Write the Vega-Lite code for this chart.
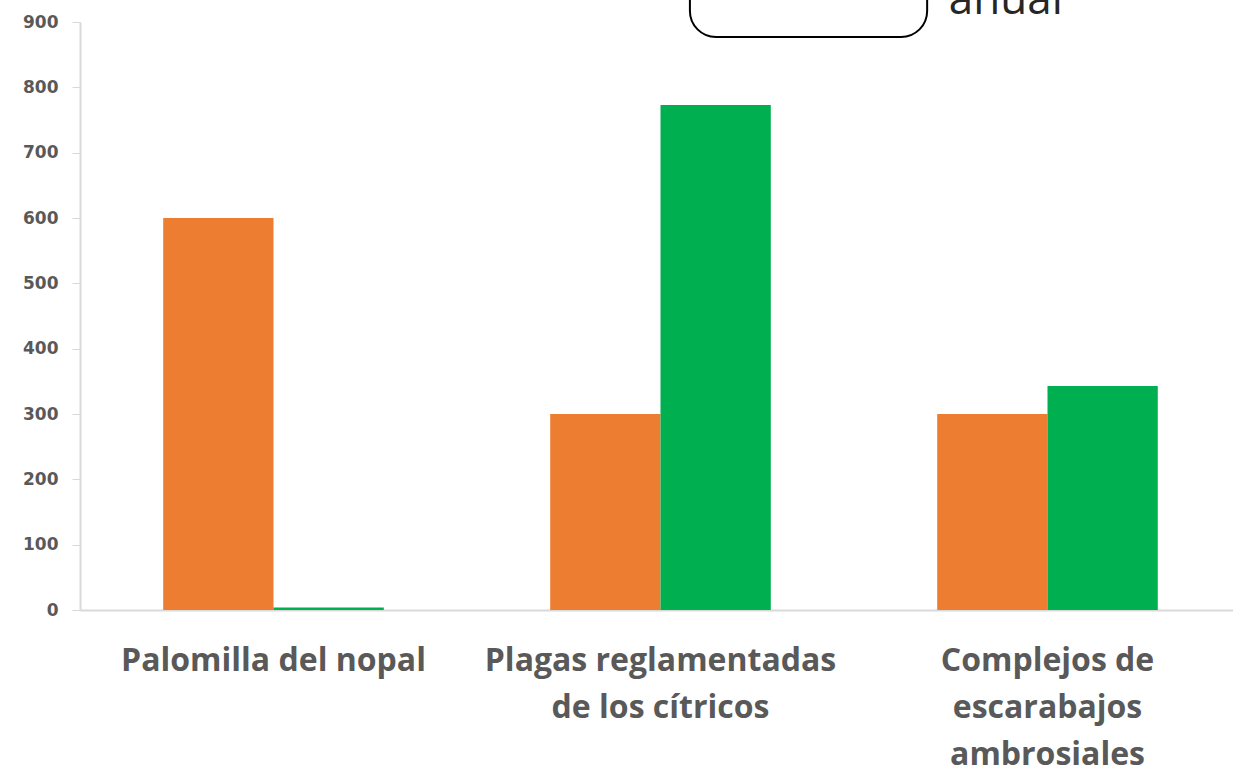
{
  "$schema": "https://vega.github.io/schema/vega-lite/v6.json",
  "width": 1161,
  "height": 588,
  "autosize": {"type": "none"},
  "padding": {"left": 80, "top": 22, "right": 0, "bottom": 170},
  "background": "white",
  "config": {"view": {"stroke": null}, "font": "Open Sans"},
  "datasets": {
    "bars": [
      {"plaga": "Palomilla del nopal", "serie": "A", "valor": 600},
      {"plaga": "Palomilla del nopal", "serie": "B", "valor": 4},
      {"plaga": "Plagas reglamentadas de los cítricos", "serie": "A", "valor": 300},
      {"plaga": "Plagas reglamentadas de los cítricos", "serie": "B", "valor": 773},
      {"plaga": "Complejos de escarabajos ambrosiales", "serie": "A", "valor": 300},
      {"plaga": "Complejos de escarabajos ambrosiales", "serie": "B", "valor": 343}
    ],
    "notas": [
      {"x0": 1.576, "x1": 2.189, "y0": 877, "y1": 980, "texto": "anual", "xt": 2.245, "yt": 912}
    ]
  },
  "layer": [
    {
      "data": {"name": "bars"},
      "mark": {"type": "bar"},
      "encoding": {
        "x": {
          "field": "plaga", "type": "nominal", "sort": null,
          "scale": {"paddingInner": 0.43, "paddingOuter": 0.215},
          "axis": {
            "title": null, "ticks": false, "labelAngle": 0,
            "domainColor": "#D9D9D9", "domainWidth": 2,
            "labelFont": "Open Sans", "labelFontWeight": "bold", "labelFontSize": 32,
            "labelColor": "#595959", "labelPadding": 50, "labelLineHeight": 47,
            "labelBaseline": "middle", "labelLimit": 400,
            "labelExpr": "datum.value == 'Plagas reglamentadas de los cítricos' ? ['Plagas reglamentadas', 'de los cítricos'] : datum.value == 'Complejos de escarabajos ambrosiales' ? ['Complejos de', 'escarabajos', 'ambrosiales'] : datum.value"
          }
        },
        "xOffset": {"field": "serie", "type": "nominal", "scale": {"paddingInner": 0, "paddingOuter": 0}},
        "y": {
          "field": "valor", "type": "quantitative",
          "scale": {"domain": [0, 900], "nice": false},
          "axis": {
            "title": null, "grid": false, "values": [0,100,200,300,400,500,600,700,800,900],
            "domainColor": "#D9D9D9", "domainWidth": 2,
            "tickColor": "#D9D9D9", "tickSize": 8, "tickWidth": 1,
            "labelFont": "DejaVu Sans", "labelFontWeight": "bold", "labelFontSize": 17,
            "labelColor": "#595959", "labelPadding": 14
          }
        },
        "color": {
          "field": "serie", "type": "nominal",
          "scale": {"domain": ["A", "B"], "range": ["#ED7D31", "#00B050"]},
          "legend": null
        }
      }
    },
    {
      "data": {"name": "notas"},
      "mark": {"type": "rect", "fill": "white", "stroke": "black", "strokeWidth": 2, "cornerRadius": 26},
      "encoding": {
        "x": {"field": "x0", "type": "quantitative", "scale": {"domain": [0, 3], "nice": false, "zero": false}, "axis": null},
        "x2": {"field": "x1"},
        "y": {"field": "y0", "type": "quantitative"},
        "y2": {"field": "y1"}
      }
    },
    {
      "data": {"name": "notas"},
      "mark": {"type": "text", "align": "left", "baseline": "alphabetic", "fontSize": 44, "font": "Open Sans", "color": "#262626"},
      "encoding": {
        "x": {"field": "xt", "type": "quantitative", "scale": {"domain": [0, 3], "nice": false, "zero": false}, "axis": null},
        "y": {"field": "yt", "type": "quantitative"},
        "text": {"field": "texto"}
      }
    }
  ],
  "resolve": {"scale": {"x": "independent"}, "axis": {"x": "independent"}}
}
